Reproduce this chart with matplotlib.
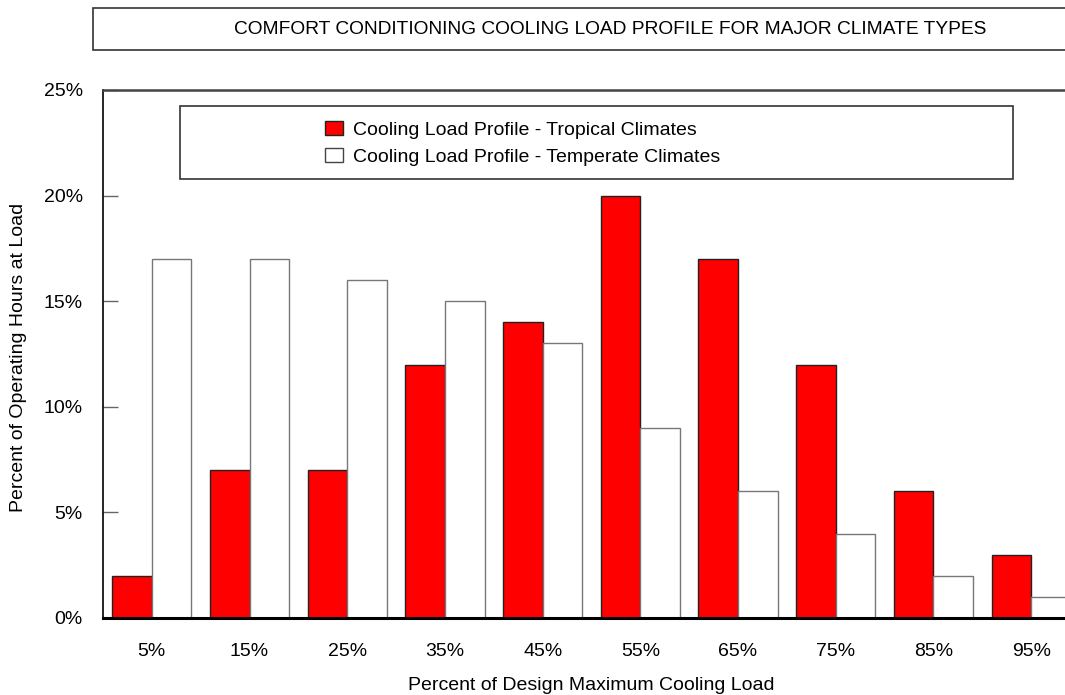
import numpy as np
import matplotlib
matplotlib.use('Agg')
import matplotlib.pyplot as plt
from matplotlib.patches import Rectangle, Patch

plt.rcParams['font.family'] = ['Liberation Sans', 'DejaVu Sans']

# data
categories = ['5%', '15%', '25%', '35%', '45%', '55%', '65%', '75%', '85%', '95%']
tropical = [2, 7, 7, 12, 14, 20, 17, 12, 6, 3]
temperate = [17, 17, 16, 15, 13, 9, 6, 4, 2, 1]
y_ticks = [0, 5, 10, 15, 20, 25]
title = 'COMFORT CONDITIONING COOLING LOAD PROFILE FOR MAJOR CLIMATE TYPES'
series_names = ['Cooling Load Profile - Tropical Climates',
                'Cooling Load Profile - Temperate Climates']

FS = 14
W, H = 1065, 695
fig = plt.figure(figsize=(W / 100, H / 100), dpi=100)

# axes in pixel terms (right side runs past the image edge, like the source)
left, right, top, bottom = 103, 1080, 90, 618
ax = fig.add_axes([left / W, (H - bottom) / H, (right - left) / W, (bottom - top) / H])

x = np.arange(len(categories))
bw = 0.405
ax.bar(x - bw, tropical, width=bw, align='edge', color='#ff0000',
       edgecolor='#222222', linewidth=1.0, zorder=2)
ax.bar(x, temperate, width=bw, align='edge', color='white',
       edgecolor='#777777', linewidth=1.0, zorder=2)

ax.set_xlim(-0.5, len(categories) - 0.5)
ax.set_ylim(0, 25)
ax.set_xticks(x)
ax.set_xticklabels(categories)
ax.set_yticks(y_ticks)
ax.set_yticklabels([f'{v}%' for v in y_ticks])
ax.tick_params(axis='x', length=0, pad=18, labelsize=FS)
ax.tick_params(axis='y', direction='in', length=11, width=1, color='#666666',
               pad=14.5, labelsize=FS)
ax.spines['right'].set_visible(False)
ax.spines['left'].set_linewidth(1.2)
ax.spines['bottom'].set_linewidth(2.2)
ax.spines['top'].set_linewidth(1.8)
ax.spines['top'].set_color('#444444')

ax.set_xlabel('Percent of Design Maximum Cooling Load', fontsize=FS, labelpad=12)
fig.text(19 / W, 1 - 357 / H, 'Percent of Operating Hours at Load', rotation=90,
         ha='center', va='center', fontsize=FS)

# title box
fig.patches.append(Rectangle((93 / W, 1 - 50 / H), (1100 - 93) / W, 42 / H,
                             transform=fig.transFigure, facecolor='white',
                             edgecolor='#333333', linewidth=1.2))
fig.text(610 / W, 1 - 30 / H, title, ha='center', va='center', fontsize=13.8)

# legend box
fig.patches.append(Rectangle((180 / W, 1 - 179 / H), (1013 - 180) / W, 73 / H,
                             transform=fig.transFigure, facecolor='white',
                             edgecolor='#333333', linewidth=1.2, zorder=3))
handles = [Patch(facecolor='#ff0000', edgecolor='#222222', label=series_names[0]),
           Patch(facecolor='white', edgecolor='#444444', label=series_names[1])]
leg = fig.legend(handles=handles, loc='upper left', bbox_to_anchor=(325 / W, 1 - 121 / H),
                 frameon=False, fontsize=FS, handlelength=0.93, handleheight=0.72,
                 handletextpad=0.5, labelspacing=0.5, borderpad=0, borderaxespad=0)
leg.set_zorder(4)

fig.savefig('out.png', dpi=100)
